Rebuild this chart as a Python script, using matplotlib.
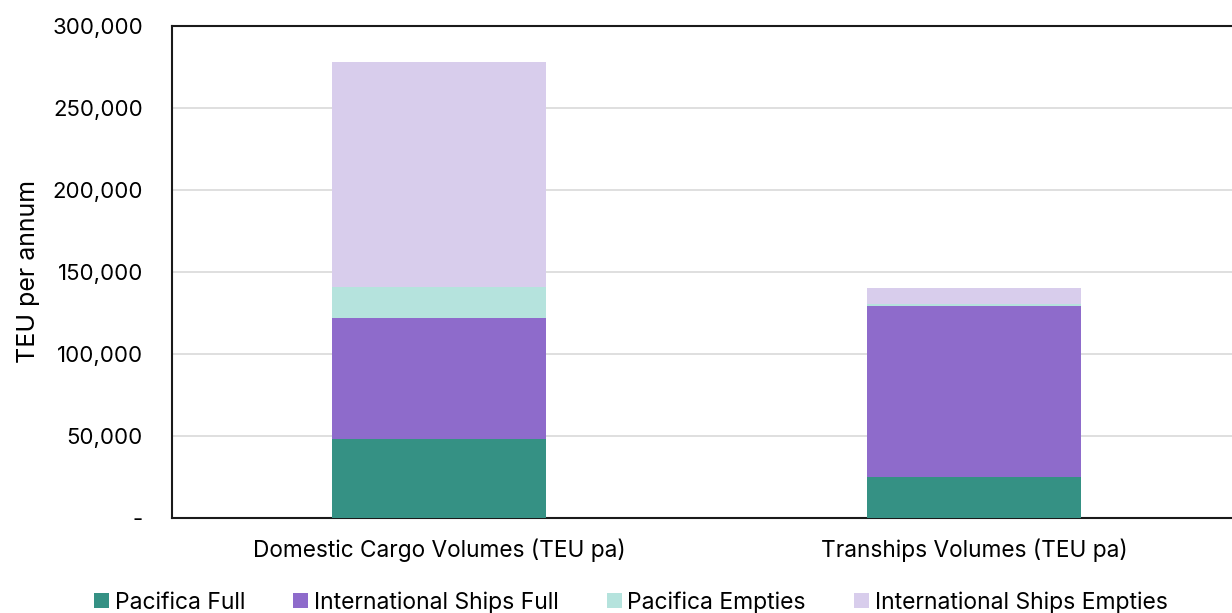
import matplotlib.pyplot as plt
from matplotlib.ticker import FuncFormatter
import numpy as np

plt.rcParams['font.family'] = ['Inter', 'DejaVu Sans']

categories = ['Domestic Cargo Volumes (TEU pa)', 'Tranships Volumes (TEU pa)']
series_names = ['Pacifica Full', 'International Ships Full', 'Pacifica Empties', 'International Ships Empties']
pacifica_full = [48000, 25000]
intl_full = [74000, 104000]
pacifica_empties = [19000, 1200]
intl_empties = [137000, 9800]
colors = ['#359184', '#8e6bcb', '#b5e3dd', '#d8cdec']


def fmt(v, pos):
    if v == 0:
        return '-'
    return '{:,.0f}'.format(v)


def main():
    fig = plt.figure(figsize=(12.32, 6.13), dpi=100)
    ax = fig.add_axes([0.1396, 0.155, 0.8685, 0.8026])

    x = np.arange(len(categories))
    bottom = np.zeros(len(categories))
    for name, vals, c in zip(series_names, [pacifica_full, intl_full, pacifica_empties, intl_empties], colors):
        ax.bar(x, vals, 0.4, bottom=bottom, color=c, label=name, zorder=3)
        bottom += np.array(vals)

    ax.set_xlim(-0.5, 1.5)
    ax.set_ylim(0, 300000)
    ax.set_yticks(range(0, 300001, 50000))
    ax.yaxis.set_major_formatter(FuncFormatter(fmt))
    ax.set_xticks(x)
    ax.set_xticklabels(categories, fontsize=16.3)
    ax.tick_params(axis='y', labelsize=16, length=0, pad=21)
    ax.tick_params(axis='x', length=0, pad=15)
    ax.grid(axis='y', color='#d9d9d9', linewidth=1.2, zorder=0)
    for s in ax.spines.values():
        s.set_color('#1a1a1a')
        s.set_linewidth(1.5)
    ax.set_ylabel('TEU per annum', fontsize=18, labelpad=9)

    fig.legend(loc='lower center', bbox_to_anchor=(0.512, -0.035), ncol=4, frameon=False,
               fontsize=16.5, handlelength=0.65, handleheight=0.65, handletextpad=0.25, columnspacing=2.1)

    fig.savefig('out.png', dpi=100)


if __name__ == "__main__":
    main()
